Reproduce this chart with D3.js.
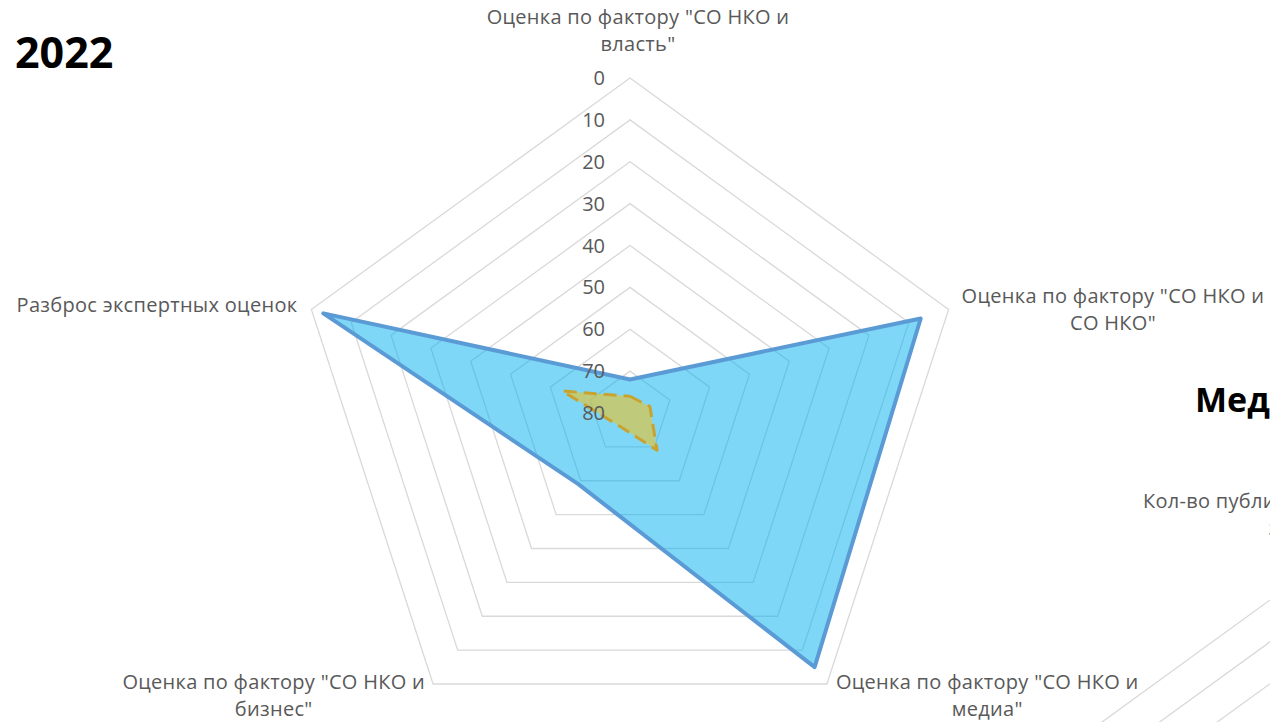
<!DOCTYPE html>
<html>
<head>
<meta charset="utf-8">
<script src="https://cdn.jsdelivr.net/npm/d3@7"></script>
<style>
  body { margin: 0; background: #fff; overflow: hidden; }
  svg { display: block; }
  text { font-family: "Open Sans", sans-serif; }
</style>
</head>
<body>
<script>

// axes of the 2022 chart, clockwise from the top
var categories = [
    ['Оценка по фактору "СО НКО и', 'власть"'],
    ['Оценка по фактору "СО НКО и', 'СО НКО"'],
    ['Оценка по фактору "СО НКО и', 'медиа"'],
    ['Оценка по фактору "СО НКО и', 'бизнес"'],
    ['Разброс экспертных оценок']
];
var blueValues = [72, 7, 5, 59, 3];
var goldValues = [76, 75, 69, 76, 63];
var tickValues = [0, 10, 20, 30, 40, 50, 60, 70, 80];

// second chart, only its corner is on the page
var mediaTitle = "Медиа";
var mediaTopLabel = ['Кол-во публикаций о СО НКО в СМИ', 'за 2022 год'];

function plot_it() {

    var width = 1270, height = 722;
    var svg = d3.select("body").append("svg")
        .attr("width", width)
        .attr("height", height);

    var R = 335;
    var n = categories.length;
    var angle = d3.scaleLinear().domain([0, n]).range([0, 2 * Math.PI]);
    // reversed axis: 0 on the outside, 80 in the middle
    var r = d3.scaleLinear().domain([0, 80]).range([R, 0]);

    function pt(i, v) {
        var a = angle(i);
        return [Math.sin(a) * r(v), -Math.cos(a) * r(v)];
    }

    var ring = d3.line().curve(d3.curveLinearClosed);
    var grey = "#595959";
    var fs = "20px", ls = "0.3px";

    function drawGrid(g) {
        g.selectAll("path.grid")
            .data(tickValues.filter(function (d) { return d < 80; }))
            .enter().append("path")
            .attr("class", "grid")
            .attr("d", function (v) { return ring(d3.range(n).map(function (i) { return pt(i, v); })); })
            .attr("fill", "none")
            .attr("stroke", "#d9d9d9")
            .attr("stroke-width", 1.3);
    }

    // ---- chart 1 ----
    var cx = 630, cy = 413;
    var chart = svg.append("g").attr("transform", "translate(" + cx + "," + cy + ")");

    drawGrid(chart);

    chart.append("path")
        .attr("d", ring(blueValues.map(function (v, i) { return pt(i, v); })))
        .attr("fill", "rgba(0,176,240,0.5)")
        .attr("stroke", "#5b9bd5")
        .attr("stroke-width", 4)
        .attr("stroke-linejoin", "round");

    chart.append("path")
        .attr("d", ring(goldValues.map(function (v, i) { return pt(i, v); })))
        .attr("fill", "rgba(255,192,0,0.5)")
        .attr("stroke", "#c9a330")
        .attr("stroke-width", 3)
        .attr("stroke-dasharray", "13,7")
        .attr("stroke-linejoin", "round");

    chart.append("g").selectAll("text")
        .data(tickValues)
        .enter().append("text")
        .attr("x", -25)
        .attr("y", function (d) { return -r(d); })
        .attr("dy", "0.35em")
        .attr("text-anchor", "end")
        .attr("fill", grey)
        .style("font-size", fs)
        .text(function (d) { return d; });

    // category labels, set beside each outer vertex
    var lineH = 27;
    categories.forEach(function (lines, i) {
        var p = pt(i, 0);
        var t = chart.append("text")
            .attr("text-anchor", "middle")
            .attr("fill", grey)
            .style("font-size", fs)
            .style("letter-spacing", ls);
        var spans = lines.map(function (s) { return t.append("tspan").text(s); });
        var w = d3.max(spans, function (s) { return s.node().getComputedTextLength(); });
        var x, y0;
        if (i === 0) { x = p[0] + 8; y0 = p[1] - 27 - (lines.length - 1) * lineH; }
        else if (i === 1) { x = p[0] + 13 + w / 2; y0 = p[1] + 7 - (lines.length - 1) * lineH / 2; }
        else if (i === 2) { x = p[0] + 9 + w / 2; y0 = p[1] + 5; }
        else if (i === 3) { x = p[0] - 8 - w / 2; y0 = p[1] + 5; }
        else { x = p[0] - 14 - w / 2; y0 = p[1] + 3; }
        spans.forEach(function (s, k) { s.attr("x", x).attr("y", y0 + k * lineH); });
    });

    svg.append("text")
        .attr("x", 15)
        .attr("y", 68)
        .style("font-size", "43px")
        .style("font-weight", "bold")
        .attr("fill", "#000")
        .text("2022");

    // ---- chart 2 (cut off by the page edge) ----
    var cx2 = 1325, cy2 = 895;
    var chart2 = svg.append("g").attr("transform", "translate(" + cx2 + "," + cy2 + ")");
    drawGrid(chart2);

    var top2 = pt(0, 0);
    var t2 = chart2.append("text")
        .attr("text-anchor", "middle")
        .attr("fill", grey)
        .style("font-size", fs)
        .style("letter-spacing", ls);
    mediaTopLabel.forEach(function (s, k) {
        t2.append("tspan")
            .attr("x", top2[0])
            .attr("y", top2[1] - 52 + k * lineH)
            .text(s);
    });

    svg.append("text")
        .attr("x", 1195)
        .attr("y", 412)
        .style("font-size", "34px")
        .style("font-weight", "bold")
        .attr("fill", "#000")
        .text(mediaTitle);
}

plot_it();
</script>
</body>
</html>
